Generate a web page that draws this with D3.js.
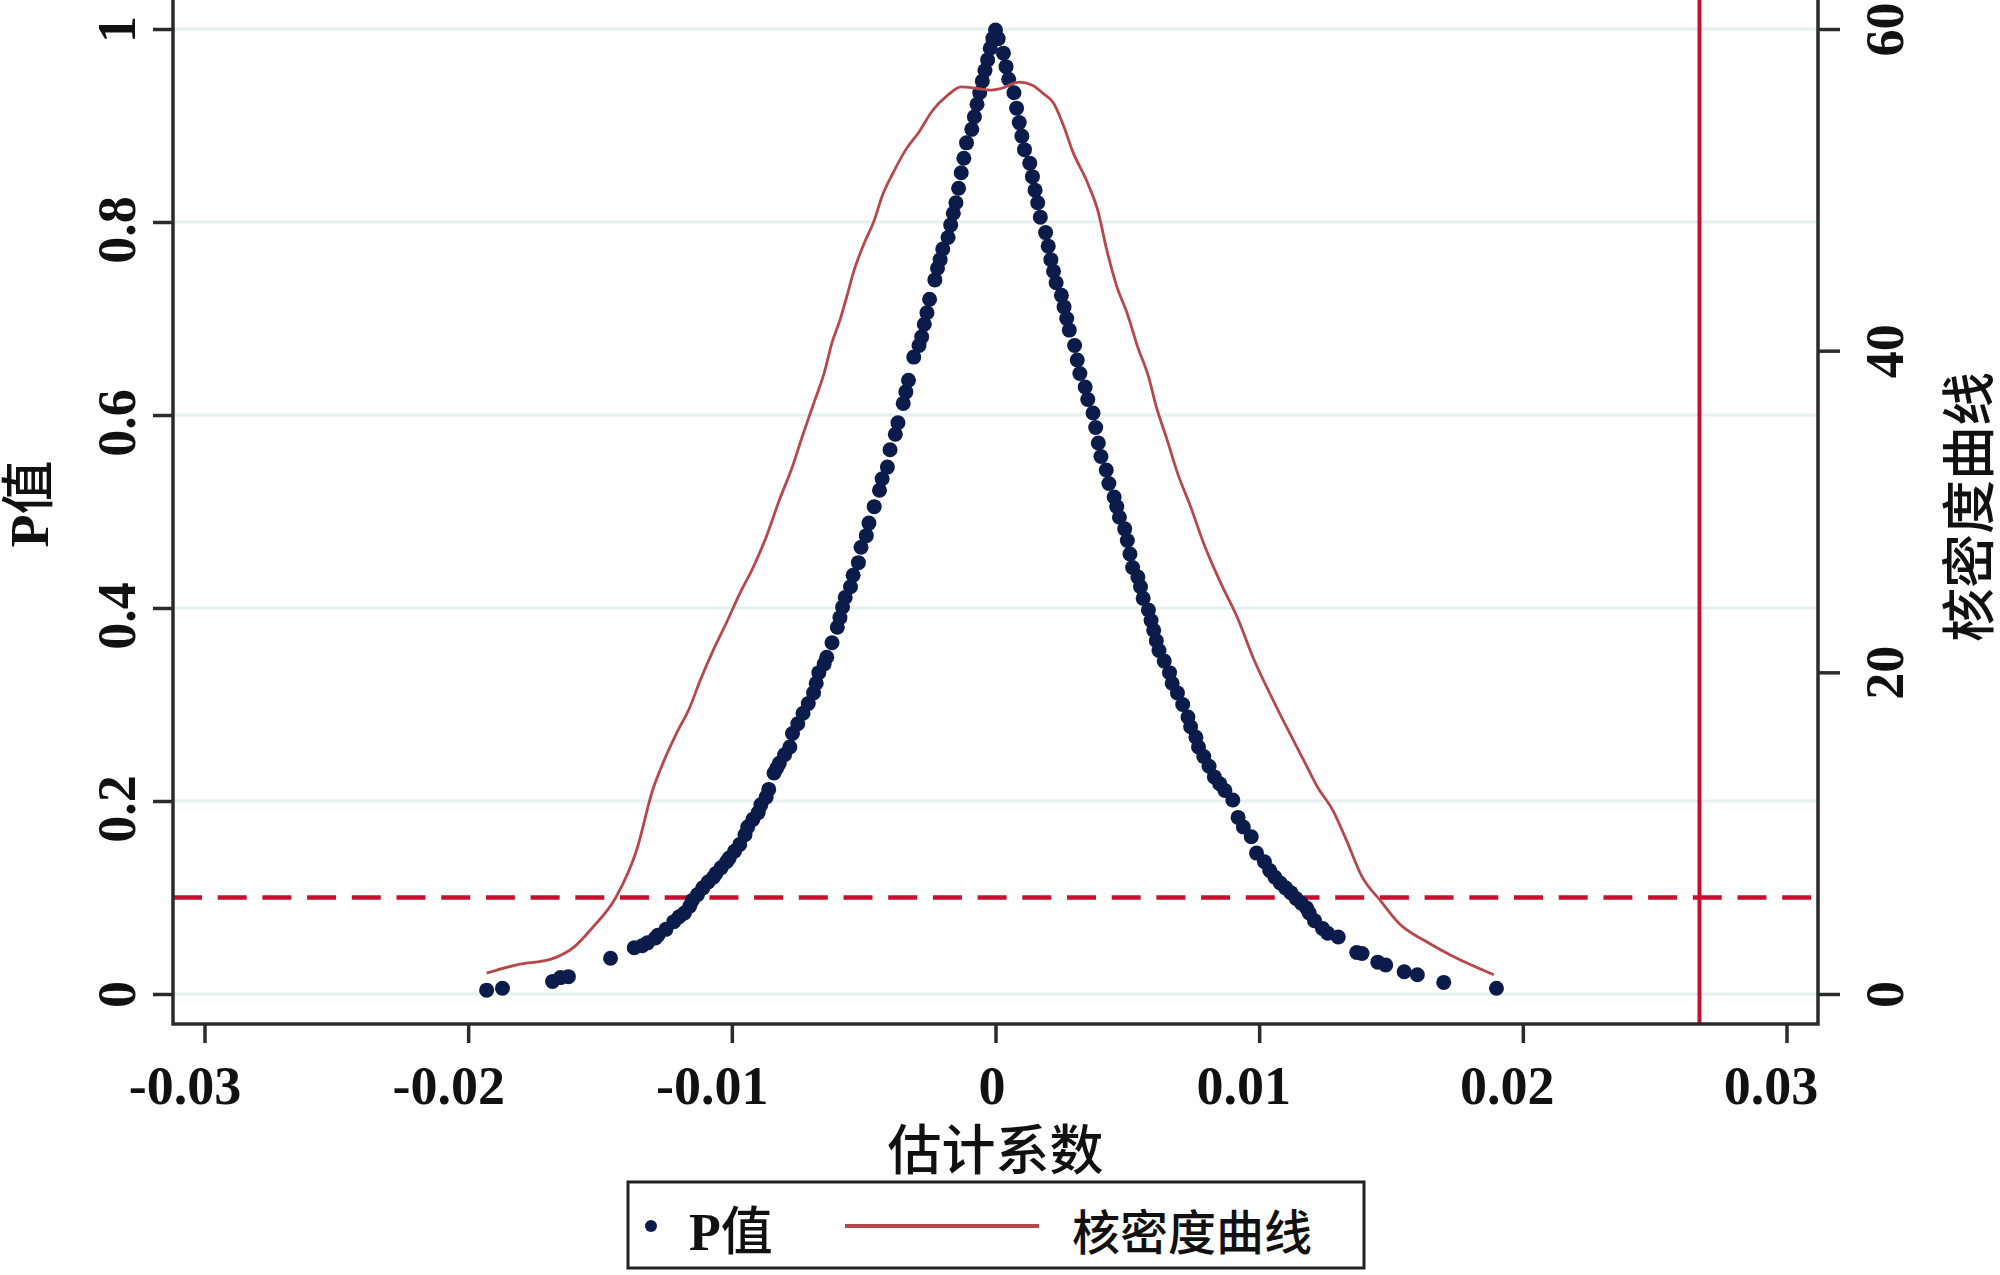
<!DOCTYPE html>
<html>
<head>
<meta charset="utf-8">
<script src="https://cdn.jsdelivr.net/npm/d3@7"></script>
<style>
  body { margin: 0; background: #fff; }
  svg text { font-family: "Liberation Serif", "Noto Sans CJK SC", serif; fill: #111; }
  .cjk { font-weight: 500; }
</style>
</head>
<body>
<svg width="2000" height="1275"></svg>
<script>
// axis ticks
var xTicks = [-0.03, -0.02, -0.01, 0, 0.01, 0.02, 0.03];
var pTicks = [0, 0.2, 0.4, 0.6, 0.8, 1];
var densityTicks = [0, 20, 40, 60];

// reference lines: p = 0.1 and the benchmark coefficient
var pCut = 0.1;
var coefCut = 0.0267;

// [coefficient, p value], left side of the peak
var leftBranch = [
    [-0.0193, 0.004], [-0.0187, 0.006], [-0.0168, 0.013], [-0.0165, 0.017], [-0.0162, 0.018],
    [-0.0146, 0.037], [-0.0137, 0.048], [-0.0134, 0.050], [-0.0132, 0.053], [-0.0129, 0.058],
    [-0.0128, 0.061], [-0.0125, 0.067], [-0.0122, 0.075], [-0.0120, 0.080], [-0.0118, 0.084],
    [-0.0116, 0.091], [-0.0115, 0.097], [-0.0113, 0.103], [-0.0111, 0.110], [-0.0109, 0.116],
    [-0.0107, 0.121], [-0.0106, 0.125], [-0.0104, 0.131], [-0.0102, 0.137], [-0.0101, 0.141],
    [-0.0099, 0.148], [-0.0097, 0.155], [-0.0095, 0.165], [-0.0094, 0.173], [-0.0092, 0.181],
    [-0.0090, 0.188], [-0.0089, 0.196], [-0.0087, 0.204], [-0.0086, 0.212], [-0.0084, 0.229],
    [-0.0083, 0.234], [-0.0082, 0.239], [-0.0080, 0.248], [-0.0078, 0.256], [-0.0077, 0.270],
    [-0.0075, 0.280], [-0.0073, 0.291], [-0.0071, 0.301], [-0.0069, 0.312], [-0.0068, 0.322],
    [-0.0067, 0.333], [-0.0065, 0.342], [-0.0064, 0.349], [-0.0062, 0.364], [-0.0060, 0.380],
    [-0.0059, 0.390], [-0.0058, 0.401], [-0.0057, 0.411], [-0.0055, 0.422], [-0.0054, 0.434],
    [-0.0052, 0.447], [-0.0051, 0.463], [-0.0049, 0.475], [-0.0048, 0.488], [-0.0046, 0.505],
    [-0.0044, 0.522], [-0.0043, 0.534], [-0.0041, 0.546], [-0.0040, 0.564], [-0.0038, 0.580],
    [-0.0037, 0.592], [-0.0035, 0.612], [-0.0034, 0.624], [-0.0033, 0.636], [-0.0031, 0.660],
    [-0.0029, 0.672], [-0.0028, 0.681], [-0.0027, 0.694], [-0.0026, 0.706], [-0.0025, 0.720],
    [-0.0023, 0.740], [-0.0022, 0.752], [-0.0021, 0.761], [-0.0020, 0.772], [-0.0018, 0.784],
    [-0.0017, 0.797], [-0.0016, 0.809], [-0.0015, 0.820], [-0.0014, 0.835], [-0.0013, 0.851],
    [-0.0012, 0.866], [-0.0011, 0.882], [-0.0009, 0.896], [-0.0008, 0.909], [-0.0007, 0.922],
    [-0.0006, 0.934], [-0.0005, 0.946], [-0.0004, 0.957], [-0.0003, 0.968], [-0.0002, 0.980],
    [-0.0001, 0.990], [0.0000, 0.999]
];

// right side of the peak
var rightBranch = [
    [0.0001, 0.990], [0.0003, 0.975], [0.0004, 0.961], [0.0005, 0.948], [0.0007, 0.934],
    [0.0008, 0.918], [0.0009, 0.903], [0.0010, 0.889], [0.0011, 0.875], [0.0013, 0.861],
    [0.0014, 0.847], [0.0015, 0.833], [0.0016, 0.820], [0.0017, 0.805], [0.0019, 0.789],
    [0.0020, 0.775], [0.0021, 0.761], [0.0022, 0.749], [0.0023, 0.737], [0.0025, 0.724],
    [0.0026, 0.712], [0.0027, 0.700], [0.0028, 0.688], [0.0030, 0.672], [0.0031, 0.657],
    [0.0032, 0.643], [0.0034, 0.629], [0.0035, 0.616], [0.0037, 0.602], [0.0038, 0.587],
    [0.0039, 0.571], [0.0040, 0.557], [0.0042, 0.543], [0.0043, 0.529], [0.0045, 0.515],
    [0.0046, 0.505], [0.0047, 0.494], [0.0049, 0.482], [0.0050, 0.470], [0.0051, 0.456],
    [0.0052, 0.442], [0.0054, 0.432], [0.0055, 0.422], [0.0056, 0.410], [0.0058, 0.398],
    [0.0059, 0.387], [0.0060, 0.377], [0.0061, 0.366], [0.0062, 0.356], [0.0064, 0.345],
    [0.0066, 0.333], [0.0067, 0.322], [0.0069, 0.312], [0.0071, 0.300], [0.0073, 0.287],
    [0.0074, 0.277], [0.0076, 0.266], [0.0077, 0.256], [0.0079, 0.246], [0.0081, 0.236],
    [0.0083, 0.225], [0.0085, 0.218], [0.0087, 0.211], [0.0090, 0.201], [0.0092, 0.183],
    [0.0094, 0.173], [0.0097, 0.163], [0.0099, 0.146], [0.0102, 0.137], [0.0104, 0.128],
    [0.0106, 0.121], [0.0108, 0.115], [0.0110, 0.110], [0.0112, 0.105], [0.0114, 0.099],
    [0.0116, 0.094], [0.0118, 0.089], [0.0119, 0.084], [0.0121, 0.076], [0.0124, 0.068],
    [0.0126, 0.063], [0.0130, 0.059], [0.0137, 0.043], [0.0139, 0.042], [0.0145, 0.033],
    [0.0148, 0.030], [0.0155, 0.023], [0.0160, 0.020], [0.0170, 0.012], [0.0190, 0.006]
];

// kernel density of the coefficients, [coefficient, density]
var kdensity = [
    [-0.0193, 1.3], [-0.0182, 1.8], [-0.0168, 2.2], [-0.0160, 2.9], [-0.0153, 4.1],
    [-0.0144, 6.0], [-0.0136, 9.0], [-0.0130, 12.7], [-0.0126, 14.4], [-0.0121, 16.2],
    [-0.0116, 17.8], [-0.0112, 19.5], [-0.0107, 21.4], [-0.0102, 23.1], [-0.0097, 24.9],
    [-0.0092, 26.5], [-0.0087, 28.4], [-0.0082, 30.7], [-0.0077, 32.8], [-0.0073, 34.8],
    [-0.0069, 36.7], [-0.0065, 38.6], [-0.0062, 40.5], [-0.0059, 41.9], [-0.0056, 43.6],
    [-0.0054, 44.8], [-0.0050, 46.6], [-0.0046, 48.1], [-0.0043, 49.6], [-0.0039, 51.0],
    [-0.0034, 52.5], [-0.0029, 53.6], [-0.0024, 54.9], [-0.0018, 55.9], [-0.0013, 56.4],
    [-0.0007, 56.3], [-0.0002, 56.2], [0.0002, 56.3], [0.0009, 56.7], [0.0014, 56.5],
    [0.0018, 56.0], [0.0022, 55.4], [0.0026, 53.9], [0.0029, 52.5], [0.0035, 50.4],
    [0.0039, 48.6], [0.0042, 46.4], [0.0046, 44.0], [0.0050, 42.3], [0.0054, 40.2],
    [0.0058, 38.4], [0.0061, 36.5], [0.0065, 34.5], [0.0069, 32.4], [0.0074, 30.3],
    [0.0079, 28.0], [0.0085, 25.7], [0.0092, 23.3], [0.0098, 20.8], [0.0104, 18.7],
    [0.0111, 16.4], [0.0117, 14.5], [0.0122, 12.9], [0.0128, 11.4], [0.0133, 9.6],
    [0.0139, 7.3], [0.0146, 5.8], [0.0153, 4.4], [0.0164, 3.2], [0.0174, 2.3],
    [0.0189, 1.2]
];

var svg = d3.select("svg");

// plot frame (the top of the plot is cut off in the picture)
var plotLeft = 173, plotRight = 1818, plotTop = 0, plotBottom = 1024;

var x = d3.scaleLinear().domain([-0.03, 0.03]).range([204.5, 1786.5]);
var y = d3.scaleLinear().domain([0, 1]).range([994, 29]);
var yDensity = d3.scaleLinear().domain([0, 60]).range([994, 29]);

var fmt = function (d) { return d === 0 ? "0" : String(d); };

//gridlines
svg.append("g")
    .selectAll("line")
    .data(pTicks)
    .enter().append("line")
    .attr("x1", plotLeft).attr("x2", plotRight)
    .attr("y1", d => y(d)).attr("y2", d => y(d))
    .attr("stroke", "#e4f1f0")
    .attr("stroke-width", 3);

//reference lines
svg.append("line")
    .attr("x1", plotLeft).attr("x2", plotRight)
    .attr("y1", y(pCut)).attr("y2", y(pCut))
    .attr("stroke", "#c8102e")
    .attr("stroke-width", 4.5)
    .attr("stroke-dasharray", "29,15.7");

svg.append("line")
    .attr("x1", x(coefCut)).attr("x2", x(coefCut))
    .attr("y1", plotTop).attr("y2", plotBottom)
    .attr("stroke", "#c8102e")
    .attr("stroke-width", 4);

//scatter of p values
svg.append("g")
    .selectAll("circle")
    .data(leftBranch.concat(rightBranch))
    .enter().append("circle")
    .attr("cx", d => x(d[0]))
    .attr("cy", d => y(d[1]))
    .attr("r", 7.5)
    .attr("fill", "#0b1c4b");

//kernel density curve
var densityLine = d3.line()
    .x(d => x(d[0]))
    .y(d => yDensity(d[1]))
    .curve(d3.curveMonotoneX);

svg.append("path")
    .datum(kdensity)
    .attr("d", densityLine)
    .attr("fill", "none")
    .attr("stroke", "#b6474b")
    .attr("stroke-width", 2.8);

//axes
function styleAxis(g) {
    g.select(".domain").remove();
    g.attr("font-size", 54).attr("font-family", null).attr("font-weight", "bold");
    g.selectAll(".tick line").attr("stroke", "#2b2b2b").attr("stroke-width", 3.5);
}

// longer labels sit a bit towards their start in the original
var xAxis = svg.append("g")
    .attr("transform", "translate(0," + plotBottom + ")")
    .call(d3.axisBottom(x).tickValues(xTicks).tickSize(19).tickFormat(fmt))
    .call(styleAxis);
xAxis.selectAll("text")
    .attr("x", d => -4 * fmt(d).length)
    .attr("y", 80).attr("dy", 0);

var yAxis = svg.append("g")
    .attr("transform", "translate(" + plotLeft + ",0)")
    .call(d3.axisLeft(y).tickValues(pTicks).tickSize(20).tickFormat(fmt))
    .call(styleAxis);
yAxis.selectAll("text")
    .attr("transform", "rotate(-90)")
    .attr("x", d => -3.7 * (fmt(d).length - 1)).attr("y", -38).attr("dy", 0)
    .attr("text-anchor", "middle");

var yAxisRight = svg.append("g")
    .attr("transform", "translate(" + plotRight + ",0)")
    .call(d3.axisRight(yDensity).tickValues(densityTicks).tickSize(22).tickFormat(fmt))
    .call(styleAxis);
yAxisRight.selectAll("text")
    .attr("transform", "rotate(-90)")
    .attr("x", 0).attr("y", 85).attr("dy", 0)
    .attr("text-anchor", "middle");

//axis lines
svg.append("path")
    .attr("d", "M" + plotLeft + "," + plotTop + "V" + plotBottom + "H" + plotRight + "V" + plotTop)
    .attr("fill", "none")
    .attr("stroke", "#2b2b2b")
    .attr("stroke-width", 3.5);

//axis titles
var pTitle = svg.append("text")
    .attr("transform", "translate(30,504) rotate(-90)")
    .attr("text-anchor", "middle")
    .attr("dominant-baseline", "central")
    .attr("font-size", 54);
pTitle.append("tspan").attr("font-weight", "bold").text("P");
pTitle.append("tspan").attr("class", "cjk").text("值");

svg.append("text")
    .attr("class", "cjk")
    .attr("transform", "translate(1971,507) rotate(-90)")
    .attr("text-anchor", "middle")
    .attr("dominant-baseline", "central")
    .attr("font-size", 54)
    .text("核密度曲线");

svg.append("text")
    .attr("class", "cjk")
    .attr("x", x(0))
    .attr("y", 1152)
    .attr("text-anchor", "middle")
    .attr("dominant-baseline", "central")
    .attr("font-size", 54)
    .text("估计系数");

//legend
var legend = svg.append("g");

legend.append("rect")
    .attr("x", 628).attr("y", 1182)
    .attr("width", 736).attr("height", 86)
    .attr("fill", "#fff")
    .attr("stroke", "#222")
    .attr("stroke-width", 3);

legend.append("circle")
    .attr("cx", 651).attr("cy", 1226)
    .attr("r", 6)
    .attr("fill", "#0b1c4b");

var pLabel = legend.append("text")
    .attr("x", 689).attr("y", 1250)
    .attr("font-size", 52);
pLabel.append("tspan").attr("font-weight", "bold").text("P");
pLabel.append("tspan").attr("class", "cjk").text("值");

legend.append("line")
    .attr("x1", 845).attr("x2", 1039)
    .attr("y1", 1226).attr("y2", 1226)
    .attr("stroke", "#b6474b")
    .attr("stroke-width", 4);

legend.append("text")
    .attr("class", "cjk")
    .attr("x", 1072).attr("y", 1250)
    .attr("font-size", 48)
    .text("核密度曲线");
</script>
</body>
</html>
